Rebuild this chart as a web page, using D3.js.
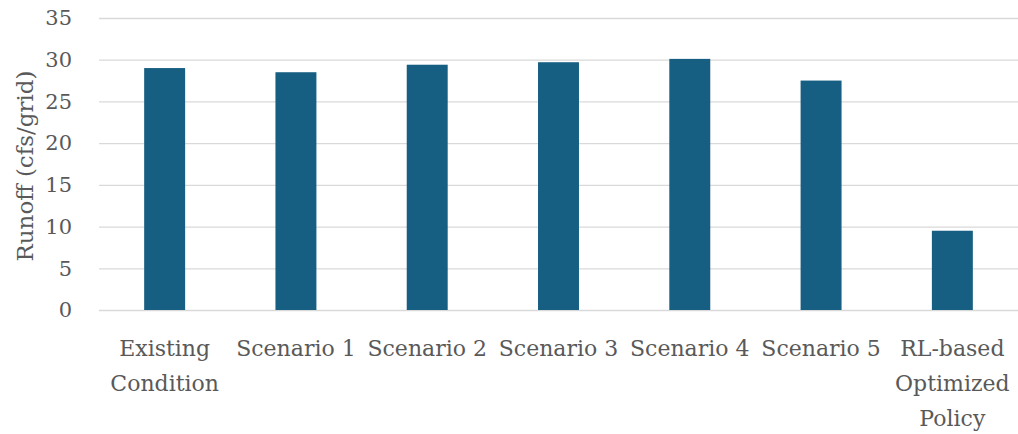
<!DOCTYPE html>
<html>
<head>
<meta charset="utf-8">
<script src="https://cdn.jsdelivr.net/npm/d3@7"></script>
<style>
  body { margin: 0; background: #fff; }
  text { font-family: "DejaVu Serif", serif; fill: #595959; }
</style>
</head>
<body>
<div id="chart"></div>
<script>
// data
const categories = ["Existing Condition", "Scenario 1", "Scenario 2", "Scenario 3",
  "Scenario 4", "Scenario 5", "RL-based Optimized Policy"];
const runoff = [29.0, 28.5, 29.4, 29.7, 30.1, 27.5, 9.5];
const yTicks = [0, 5, 10, 15, 20, 25, 30, 35];

const W = 1018, H = 434;
const margin = { top: 18, right: 0, bottom: 124, left: 99 };
const width = W - margin.left - margin.right,
  height = H - margin.top - margin.bottom;

const svg = d3.select("#chart")
  .append("svg")
  .attr("width", W)
  .attr("height", H);

const g = svg.append("g")
  .attr("transform", `translate(${margin.left}, ${margin.top})`);

const x = d3.scaleBand()
  .domain(categories)
  .range([0, width])
  .paddingInner(0.688)
  .paddingOuter(0.344);

const y = d3.scaleLinear()
  .domain([0, 35])
  .range([height, 0]);

// gridlines
g.selectAll(".grid")
  .data(yTicks)
  .join("line")
  .attr("class", "grid")
  .attr("x1", 0)
  .attr("x2", width)
  .attr("y1", d => y(d) + 0.5)
  .attr("y2", d => y(d) + 0.5)
  .attr("stroke", "#d9d9d9")
  .attr("stroke-width", 1.3);

// y axis labels
const yAxis = g.append("g")
  .call(d3.axisLeft(y).tickValues(yTicks).tickSize(0).tickPadding(27));
yAxis.select(".domain").remove();
yAxis.selectAll("text")
  .style("font-family", "DejaVu Serif, serif")
  .style("font-size", "21px")
  .attr("fill", "#595959");

// bars
g.selectAll(".bar")
  .data(runoff)
  .join("rect")
  .attr("class", "bar")
  .attr("x", (d, i) => x(categories[i]))
  .attr("width", x.bandwidth())
  .attr("y", d => y(d))
  .attr("height", d => y(0) - y(d))
  .attr("fill", "#175f82");

// category labels, wrapped to the band width
const step = x.step();
const labels = g.selectAll(".cat")
  .data(categories)
  .join("text")
  .attr("class", "cat")
  .attr("text-anchor", "middle")
  .style("font-size", "22px")
  .attr("transform", d => `translate(${x(d) + x.bandwidth() / 2}, ${height + 46})`);

labels.each(function (d) {
  const t = d3.select(this);
  const words = d.split(" ");
  let lines = [], line = [];
  const probe = t.append("tspan");
  words.forEach(w => {
    const tryLine = line.concat(w);
    probe.text(tryLine.join(" "));
    if (probe.node().getComputedTextLength() > step - 4 && line.length) {
      lines.push(line.join(" "));
      line = [w];
    } else {
      line = tryLine;
    }
  });
  lines.push(line.join(" "));
  probe.remove();
  lines.forEach((l, i) => {
    t.append("tspan").attr("x", 0).attr("y", i * 35).text(l);
  });
});

// y axis title
svg.append("text")
  .attr("text-anchor", "middle")
  .attr("transform", `translate(33, 166) rotate(-90)`)
  .style("font-size", "23px")
  .text("Runoff (cfs/grid)");
</script>
</body>
</html>
